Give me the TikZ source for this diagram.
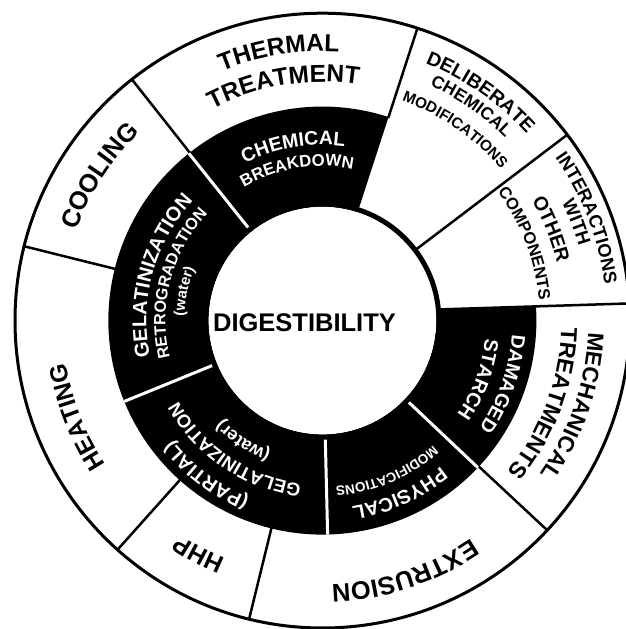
\documentclass[tikz,border=0pt]{standalone}
\usepackage{fontspec}
\setmainfont{Liberation Sans}
\usetikzlibrary{decorations.text}
% #1 centre angle, #2 baseline radius (pt), #3 font size, #4 colour, #5 text
\newcommand\ArcText[5]{%
  \pgfmathsetmacro\aS{#1+55}\pgfmathsetmacro\aE{#1-55}%
  \path[decorate,decoration={text along path,text align=center,
     text={|\fontsize{#3}{#3}\selectfont\bfseries\color{#4}|#5}}]
     (\aS:#2pt) arc[start angle=\aS,end angle=\aE,radius=#2pt];}
\tikzset{
  divider/.style={line width=2.5pt,black},
  wdivider/.style={line width=3pt,white},
}
\begin{document}
\begin{tikzpicture}[x=1pt,y=1pt]
\useasboundingbox (0,0) rectangle (625,629);
\fill[white] (0,0) rectangle (625,629);
\begin{scope}[shift={(322.4,308.4)}]
  % black ring
  \fill[black] (72:214pt) arc[start angle=72,end angle=363.8,radius=214pt]
     -- (365.5:113pt) arc[start angle=365.5,end angle=72,radius=113pt] -- cycle;
  % outer circle
  \draw[line width=3pt] (0,0) circle[radius=307.4pt];
  % outer dividers
  \foreach \a in {72,128.3,166,-131.8,-103.8,-43}
    \draw[divider] (\a:213pt) -- (\a:307.4pt);
  \draw[divider] (37.2:116pt) -- (37.2:307.4pt);
  \draw[divider] (5.5:116pt) -- (3.2:307.4pt);
  % white dividers in the black ring
  \foreach \a in {128.6,202.2,-88.6,-43.4}
    \draw[wdivider] (\a:116pt) -- (\a:214pt);
  % inner circle
  \fill[white] (0,0) circle[radius=114pt];
  \draw[line width=5pt] (0,0) circle[radius=116.5pt];
  \node[font=\bfseries\fontsize{25.5}{25.5}\selectfont] (dig) at (-17.9,-2.4) {DIGESTIBILITY};

  % outer ring labels
  \ArcText{99.2}{269}{24.5}{black}{THERMAL}
  \ArcText{99.4}{238.5}{24.5}{black}{TREATMENT}
  \ArcText{147}{262}{25.5}{black}{COOLING}
  \ArcText{201.4}{260}{24.5}{black}{HEATING}
  \ArcText{242.1}{257}{24.5}{black}{HHP}
  \ArcText{-71.9}{264}{25.5}{black}{EXTRUSION}
  \ArcText{-18.8}{266}{22.5}{black}{MECHANICAL}
  \ArcText{-20.4}{239}{23}{black}{TREATMENTS}
  \ArcText{55.3}{277}{19.5}{black}{DELIBERATE}
  \ArcText{55.2}{258.5}{17.5}{black}{CHEMICAL}
  \ArcText{55.2}{234}{15.3}{black}{MODIFICATIONS}
  \ArcText{21.2}{284.5}{18.4}{black}{INTERACTIONS}
  \ArcText{21.2}{267}{18.5}{black}{WITH}
  \ArcText{21.8}{241.5}{19.5}{black}{OTHER}
  \ArcText{20.8}{217.6}{16.5}{black}{COMPONENTS}

  % black ring labels
  \ArcText{99.5}{175.5}{19.5}{white}{CHEMICAL}
  \ArcText{99.6}{154.5}{16.8}{white}{BREAKDOWN}
  \ArcText{164.5}{176}{20}{white}{GELATINIZATION}
  \ArcText{165.3}{157}{16.3}{white}{RETROGRADATION}
  \ArcText{168}{138}{15}{white}{(water)}
  \ArcText{233}{192}{19.5}{white}{(PARTIAL)}
  \ArcText{235.9}{165}{18.4}{white}{GELATINIZATION}
  \ArcText{236.6}{141}{18}{white}{(water)}
  \ArcText{-66}{188}{19.5}{white}{PHYSICAL}
  \ArcText{-66.9}{166.7}{13.5}{white}{MODIFICATIONS}
  \ArcText{-19.3}{190}{19.4}{white}{DAMAGED}
  \ArcText{-20.7}{164}{19.6}{white}{STARCH}
\end{scope}
\end{tikzpicture}
\end{document}
